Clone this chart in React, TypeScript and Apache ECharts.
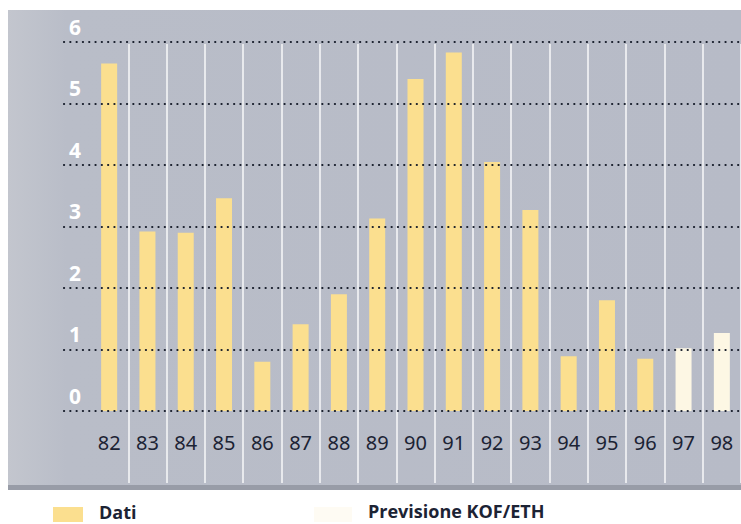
import React, { useEffect, useRef } from "react";
import * as echarts from "echarts";

// Years (19xx) on the category axis
const years = ["82", "83", "84", "85", "86", "87", "88", "89", "90", "91", "92", "93", "94", "95", "96", "97", "98"];
// Observed values, 1982–1996
const datiValues = [5.65, 2.92, 2.9, 3.46, 0.8, 1.41, 1.9, 3.13, 5.4, 5.83, 4.05, 3.27, 0.89, 1.8, 0.85];
// KOF/ETH forecast, 1997–1998
const previsioneValues = [1.02, 1.27];
// Value axis ticks
const yTicks = [0, 1, 2, 3, 4, 5, 6];

const W = 741;
const H = 524;

const PANEL = "#b7bbc7";
const YELLOW = "#fbdf8f";
const CREAM = "#fdf7e4";
const INK = "#1c2334";
const FONT = "'Noto Sans', 'Open Sans', sans-serif";

export default function App() {
  const ref = useRef<HTMLDivElement>(null);

  useEffect(() => {
    if (!ref.current) return;
    const chart = echarts.init(ref.current, null, { renderer: "svg", width: W, height: H });

    const nDati = datiValues.length;
    const datiData = years.map((_, i) => (i < nDati ? datiValues[i] : null));
    const prevData = years.map((_, i) => (i >= nDati ? previsioneValues[i - nDati] : null));

    const yMin = yTicks[0];
    const yMax = yTicks[yTicks.length - 1];

    chart.setOption({
      animation: false,
      backgroundColor: "#ffffff",
      graphic: [
        {
          type: "rect",
          z: -10,
          shape: { x: 8, y: 10, width: W - 8, height: 475 },
          style: {
            fill: new echarts.graphic.LinearGradient(0, 0, 1, 0, [
              { offset: 0, color: "#c3c6ce" },
              { offset: 0.08, color: "#b9bdc8" },
              { offset: 1, color: PANEL },
            ]),
          },
        },
        {
          type: "rect",
          z: -10,
          shape: { x: 8, y: 485, width: W - 8, height: 5 },
          style: { fill: "#989ca7" },
        },
        {
          type: "rect",
          shape: { x: 53, y: 507, width: 30, height: 15 },
          style: { fill: YELLOW },
        },
        {
          type: "text",
          x: 99,
          y: 512,
          style: {
            text: "Dati",
            fill: INK,
            font: `bold 18px 'Open Sans', sans-serif`,
            verticalAlign: "middle",
          },
        },
        {
          type: "rect",
          shape: { x: 314, y: 507, width: 38, height: 15 },
          style: { fill: "#fefbf3" },
        },
        {
          type: "text",
          x: 368,
          y: 511,
          style: {
            text: "Previsione KOF/ETH",
            fill: INK,
            font: `bold 18px 'Open Sans', sans-serif`,
            verticalAlign: "middle",
          },
        },
      ],
      grid: [
        // dotted value lines and their labels
        { left: 64, right: 0, top: 42, bottom: H - 411 },
        // bars
        { left: 90, right: -1.4, top: 42, bottom: H - 411 },
        // white column separators
        { left: 90, right: -1.4, top: 44, bottom: H - 483 },
      ],
      xAxis: [
        { gridIndex: 0, type: "value", min: 0, max: 1, show: false },
        {
          gridIndex: 1,
          type: "category",
          data: years,
          axisLine: { show: false },
          axisTick: { show: false },
          splitLine: { show: false },
          axisLabel: {
            color: INK,
            fontFamily: FONT,
            fontSize: 20,
            margin: 21,
            lineHeight: 20,
          },
        },
        {
          gridIndex: 2,
          type: "category",
          data: years,
          axisLine: { show: false },
          axisTick: { show: false },
          axisLabel: { show: false },
          splitLine: {
            show: true,
            interval: (index: number) => index > 0,
            lineStyle: { color: "rgba(255,255,255,0.9)", width: 1.5 },
          },
        },
      ],
      yAxis: [
        {
          gridIndex: 0,
          type: "value",
          min: yMin,
          max: yMax,
          interval: 1,
          z: 10,
          axisLine: { show: false },
          axisTick: { show: false },
          splitLine: {
            show: true,
            lineStyle: { color: "#141a28", width: 2.2, type: [0.1, 6.2], cap: "round" },
          },
          axisLabel: {
            inside: true,
            margin: 5,
            align: "left",
            verticalAlign: "bottom",
            padding: [0, 0, 5, 0],
            color: "#ffffff",
            fontFamily: FONT,
            fontWeight: "bold",
            fontSize: 21,
            lineHeight: 21,
          },
        },
        { gridIndex: 1, type: "value", min: yMin, max: yMax, show: false },
        { gridIndex: 2, type: "value", min: 0, max: 1, show: false },
      ],
      series: [
        {
          name: "Dati",
          type: "bar",
          xAxisIndex: 1,
          yAxisIndex: 1,
          data: datiData,
          barWidth: 16,
          barGap: "-100%",
          z: 2,
          itemStyle: { color: YELLOW },
        },
        {
          name: "Previsione KOF/ETH",
          type: "bar",
          xAxisIndex: 1,
          yAxisIndex: 1,
          data: prevData,
          barWidth: 16,
          barGap: "-100%",
          z: 2,
          itemStyle: { color: CREAM },
        },
      ],
    });

    return () => chart.dispose();
  }, []);

  return (
    <div
      ref={ref}
      style={{ position: "fixed", left: 0, top: 0, width: W, height: H, background: "#fff" }}
    />
  );
}
